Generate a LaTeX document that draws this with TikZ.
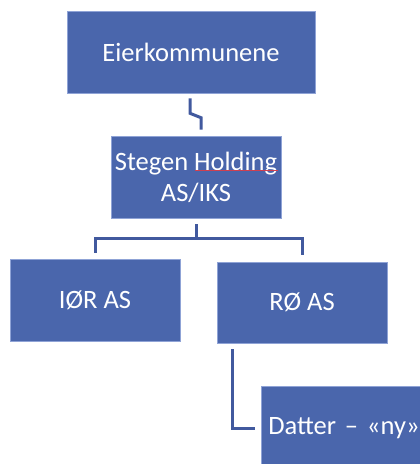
\documentclass[tikz,border=0pt]{standalone}
\usepackage{fontspec}
\setmainfont{Carlito}
\definecolor{boxfill}{HTML}{4A66AC}
\definecolor{boxline}{HTML}{8FA3D6}
\definecolor{conn}{HTML}{41599E}
\definecolor{squiggle}{HTML}{D04050}
\begin{document}
\begin{tikzpicture}[x=1pt,y=-1pt,
  orgbox/.style={rectangle, fill=boxfill, draw=boxline, line width=0.6pt,
    text=white, font=\fontsize{26.5}{31}\selectfont, align=center, inner sep=0pt},
  link/.style={draw=conn, line width=3pt}]
\useasboundingbox (0,0) rectangle (420,464);
\begin{scope}
\clip (0,0) rectangle (420,464);
\node[orgbox, minimum width=248pt, minimum height=82pt] (eier) at (191,52) {Eierkommunene};
\node[orgbox, minimum width=170pt, minimum height=82pt] (stegen) at (196,177) {Stegen Holding\\AS/IKS};
\node[orgbox, minimum width=170pt, minimum height=82pt] (ior) at (95,300) {IØR AS};
\node[orgbox, minimum width=170pt, minimum height=81pt] (ro) at (302,302.5) {RØ AS};
\node[orgbox, minimum width=172pt, minimum height=84pt, text width=172pt] (datter) at (347,428) {Datter – «ny»\hspace*{6pt}};

\draw[squiggle, line width=0.6pt] ([xshift=-1pt,yshift=7pt]stegen.center) -- ([xshift=82pt,yshift=7pt]stegen.center);

\coordinate (c1a) at ([xshift=-1pt,yshift=-5pt]eier.south);
\coordinate (c1b) at ([xshift=5pt,yshift=6pt]stegen.north);
\draw[link] (c1a) -- ++(0,15) -- ([yshift=12pt]c1b) -- (c1b);

\coordinate (c2a) at ([yshift=-6pt]stegen.south);
\coordinate (c2l) at ([yshift=6pt]ior.north);
\coordinate (c2r) at ([yshift=7pt]ro.north);
\draw[link] (c2a) -- ++(0,14) coordinate (mid);
\draw[link] (c2l) |- (mid) -| (c2r);

\coordinate (c3a) at ([xshift=-70pt,yshift=-6pt]ro.south);
\coordinate (c3b) at ([xshift=-6pt]datter.west);
\draw[link] (c3a) |- (c3b);
\end{scope}
\end{tikzpicture}
\end{document}
